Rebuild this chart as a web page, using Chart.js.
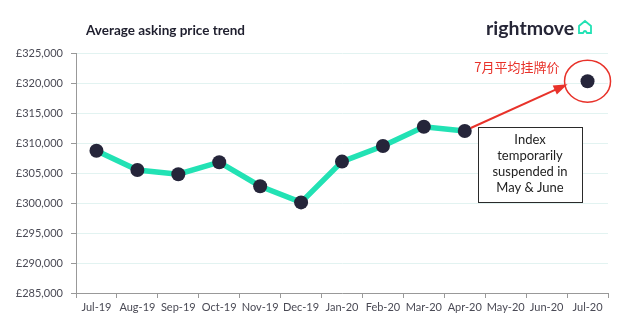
<!DOCTYPE html>
<html>
<head>
<meta charset="utf-8">
<script src="https://cdn.jsdelivr.net/npm/chart.js@4/dist/chart.umd.min.js"></script>
<style>
  html, body { margin: 0; padding: 0; background: #fff; }
  #wrap { width: 640px; height: 331px; position: relative; }
</style>
</head>
<body>
<div id="wrap"><canvas id="priceChart"></canvas></div>
<script>
const months = ['Jul-19', 'Aug-19', 'Sep-19', 'Oct-19', 'Nov-19', 'Dec-19', 'Jan-20',
                'Feb-20', 'Mar-20', 'Apr-20', 'May-20', 'Jun-20', 'Jul-20'];
// asking price, May & June missing (index suspended)
const askingPrice = [308700, 305500, 304800, 306800, 302800, 300100, 306900,
                     309500, 312700, 312000, null, null, 320300];
const yTicks = [285000, 325000, 5000]; // min, max, step

const FONT = 'Lato, "Open Sans", sans-serif';
const GREEN = '#22e2b4';
const NAVY = '#25253a';
const RED = '#e8322a';

const fmtPound = v => '£' + v.toLocaleString('en-GB');

// title, logo and the red annotation around the July point
const decorations = {
    id: 'decorations',
    afterDatasetsDraw(chart) {
        const c = chart.ctx;
        const x = chart.scales.x, y = chart.scales.y;
        c.save();

        c.fillStyle = '#1f1f2e';
        c.font = 'bold 13.5px ' + FONT;
        c.textBaseline = 'middle';
        c.fillText('Average asking price trend', 86, 31);

        c.font = 'bold 19.5px ' + FONT;
        c.fillStyle = '#262637';
        c.fillText('rightmove', 486, 29);
        // small house outline
        c.strokeStyle = GREEN;
        c.lineWidth = 1.8;
        c.beginPath();
        c.moveTo(579, 33); c.lineTo(579, 26); c.lineTo(585, 21); c.lineTo(591, 26); c.lineTo(591, 33);
        c.lineTo(587, 33); c.quadraticCurveTo(585, 29, 583, 33); c.closePath();
        c.stroke();

        // red circle + label on the last point
        const last = months.length - 1;
        const px = x.getPixelForValue(last);
        const py = y.getPixelForValue(askingPrice[last]);
        c.strokeStyle = RED;
        c.lineWidth = 1.5;
        c.beginPath();
        c.ellipse(px, py, 23, 21, 0, 0, Math.PI * 2);
        c.stroke();

        c.fillStyle = RED;
        c.font = '13px "Noto Sans CJK SC", sans-serif';
        c.textAlign = 'right';
        c.fillText('7月平均挂牌价', px - 28, py - 14);

        // arrow from April point towards July point
        const ax = x.getPixelForValue(9) + 6, ay = y.getPixelForValue(askingPrice[9]) - 3;
        const tx = px - 20, ty = py + 3;
        const ang = Math.atan2(ty - ay, tx - ax);
        c.lineWidth = 2;
        c.beginPath();
        c.moveTo(ax, ay);
        c.lineTo(tx - 10 * Math.cos(ang), ty - 10 * Math.sin(ang));
        c.stroke();
        c.beginPath();
        c.moveTo(tx, ty);
        c.lineTo(tx - 14 * Math.cos(ang) + 5 * Math.sin(ang), ty - 14 * Math.sin(ang) - 5 * Math.cos(ang));
        c.lineTo(tx - 14 * Math.cos(ang) - 5 * Math.sin(ang), ty - 14 * Math.sin(ang) + 5 * Math.cos(ang));
        c.closePath();
        c.fill();

        // note box
        c.fillStyle = '#fff';
        c.fillRect(478, 127, 104, 75);
        c.strokeStyle = '#2a2a2a';
        c.lineWidth = 1;
        c.strokeRect(478.5, 127.5, 104, 75);
        c.fillStyle = '#222';
        c.textAlign = 'center';
        c.font = '13px ' + FONT;
        ['Index', 'temporarily', 'suspended in', 'May & June'].forEach((t, i) => {
            c.fillText(t, 530, 140 + i * 16);
        });

        c.restore();
    }
};

new Chart(document.getElementById('priceChart').getContext('2d'), {
    type: 'line',
    data: {
        labels: months,
        datasets: [{
            label: 'Average asking price',
            data: askingPrice,
            borderColor: GREEN,
            borderWidth: 5.5,
            pointRadius: 7,
            pointHoverRadius: 7,
            pointBackgroundColor: NAVY,
            pointBorderColor: NAVY,
            pointBorderWidth: 0,
            spanGaps: false,
            tension: 0,
        }],
    },
    options: {
        responsive: true,
        maintainAspectRatio: false,
        animation: false,
        layout: { padding: { top: 53, right: 32, left: 0, bottom: 0 } },
        plugins: {
            legend: { display: false },
            tooltip: { enabled: false },
        },
        scales: {
            x: {
                offset: true,
                grid: { display: true, drawOnChartArea: false, offset: true, tickLength: 5, color: '#999' },
                border: { color: '#999' },
                ticks: { color: '#4a4a55', font: { family: FONT, size: 11 }, maxRotation: 0, autoSkip: false, padding: 3 },
                afterFit: s => { s.height = 331 - 293; },
            },
            y: {
                min: yTicks[0],
                max: yTicks[1],
                grid: { color: '#e2f3f1', tickLength: 5, tickColor: '#999' },
                border: { color: '#999' },
                ticks: { stepSize: yTicks[2], color: '#4a4a55', font: { family: FONT, size: 11 }, padding: 8, callback: fmtPound },
                afterFit: s => { s.width = 76; },
            },
        },
    },
    plugins: [decorations],
});
</script>
</body>
</html>
